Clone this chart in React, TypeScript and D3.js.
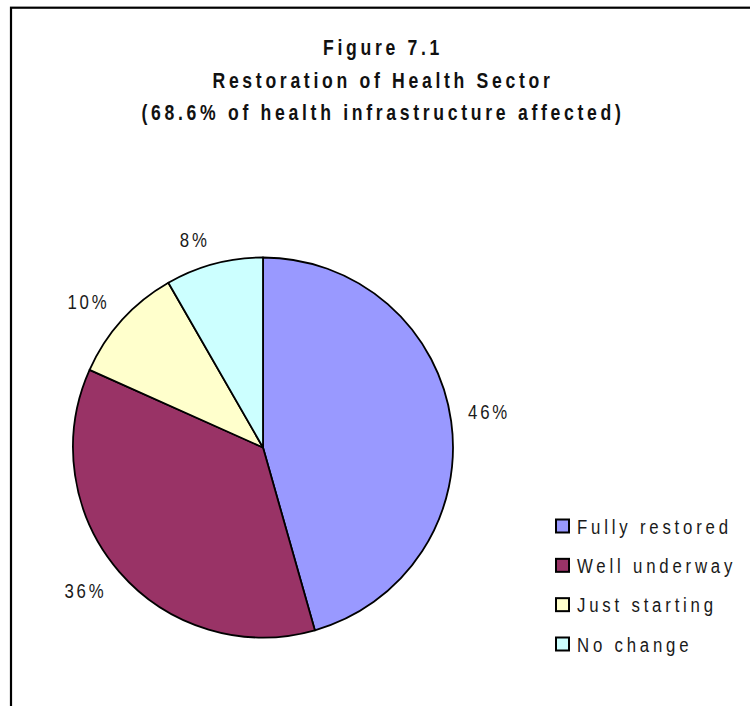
import React from "react";
import * as d3 from "d3";

const categories = ["Fully restored", "Well underway", "Just starting", "No change"];
const values = [45.6, 36.1, 10.0, 8.3];
const colors = ["#9999FF", "#993366", "#FFFFCC", "#CCFFFF"];
const titleLines = ["Figure 7.1", "Restoration of Health Sector", "(68.6% of health infrastructure affected)"];

const W = 750;
const H = 706;
const FONT = "'Liberation Sans', Arial, sans-serif";
const NARROW = 0.8;

type NTProps = {
  x: number;
  y: number;
  anchor?: "start" | "middle" | "end";
  size: number;
  spacing: number;
  bold?: boolean;
  fill?: string;
  children: React.ReactNode;
};

function NarrowText({ x, y, anchor = "start", size, spacing, bold, fill = "#1a1a1a", children }: NTProps) {
  return (
    <g transform={`translate(${x},${y}) scale(${NARROW},1)`}>
      <text
        x={0}
        y={0}
        textAnchor={anchor}
        fontFamily={FONT}
        fontWeight={bold ? "bold" : "normal"}
        fontSize={size}
        letterSpacing={spacing / NARROW}
        fill={fill}
      >
        {children}
      </text>
    </g>
  );
}

export default function App() {
  const cx = 263;
  const cy = 447.5;
  const r = 190;
  const pie = d3.pie<number>().sort(null).value((d) => d);
  const arcs = pie(values);
  const arcGen = d3.arc<d3.PieArcDatum<number>>().innerRadius(0).outerRadius(r);
  const total = d3.sum(values);
  const labelOffset = 17;
  const capH = 15;

  const legendY = d3.scalePoint<string>().domain(categories).range([526, 644]);

  return (
    <svg
      width={W}
      height={H}
      style={{ position: "absolute", left: 0, top: 0, background: "#fff" }}
    >
      <rect x={0} y={0} width={W} height={H} fill="#fff" />
      <rect x={11} y={7.7} width={900} height={900} fill="none" stroke="#000" strokeWidth={2.2} />

      {titleLines.map((t, i) => (
        <NarrowText key={t} x={383} y={55 + i * 32.5} anchor="middle" size={22} spacing={3.7} bold fill="#111">
          {t}
        </NarrowText>
      ))}

      <g transform={`translate(${cx},${cy})`}>
        {arcs.map((a, i) => (
          <path key={i} d={arcGen(a) || ""} fill={colors[i]} stroke="#000" strokeWidth={1.8} strokeLinejoin="round" />
        ))}
      </g>

      {arcs.map((a, i) => {
        const mid = (a.startAngle + a.endAngle) / 2;
        const sx = Math.sin(mid);
        const sy = -Math.cos(mid);
        const px = cx + (r + labelOffset) * sx;
        const py = cy + (r + labelOffset) * sy;
        const baseline = sy < 0 ? py : py + capH;
        const label = `${Math.round((a.data / total) * 100)}%`;
        return (
          <NarrowText key={i} x={px} y={baseline} anchor={sx >= 0 ? "start" : "end"} size={21} spacing={2.8}>
            {label}
          </NarrowText>
        );
      })}

      {categories.map((c, i) => {
        const y = legendY(c) as number;
        return (
          <g key={c}>
            <rect x={556} y={y - 6.5} width={13} height={13} fill={colors[i]} stroke="#000" strokeWidth={2} />
            <NarrowText x={577} y={y + 7.5} size={21} spacing={3.8}>
              {c}
            </NarrowText>
          </g>
        );
      })}
    </svg>
  );
}
